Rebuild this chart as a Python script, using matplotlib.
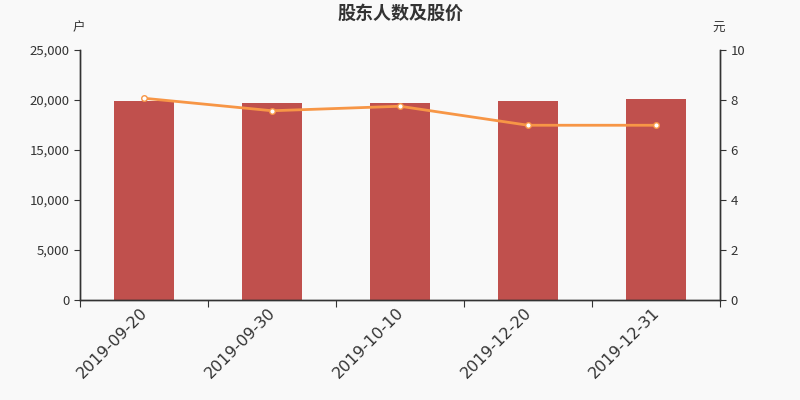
import matplotlib
matplotlib.use('Agg')
import matplotlib.pyplot as plt
import matplotlib.transforms as mtransforms
from matplotlib.ticker import FuncFormatter

# 数据
dates = ['2019-09-20', '2019-09-30', '2019-10-10', '2019-12-20', '2019-12-31']
holders = [19950, 19680, 19720, 19900, 20080]
prices = [8.07, 7.57, 7.75, 6.99, 6.99]

plt.rcParams['font.family'] = ['Noto Sans CJK SC', 'DejaVu Sans']
plt.rcParams['axes.unicode_minus'] = False

bg = '#f9f9f9'
axis_color = '#333333'

fig = plt.figure(figsize=(8, 4), dpi=100, facecolor=bg)
ax = fig.add_axes([0.1, 0.25, 0.8, 0.625], facecolor=bg)

x = list(range(len(dates)))
ax.bar(x, holders, width=0.47, color='#c0504d', zorder=2)
ax.set_xlim(-0.5, len(dates) - 0.5)
ax.set_ylim(0, 25000)
ax.set_yticks([0, 5000, 10000, 15000, 20000, 25000])
ax.yaxis.set_major_formatter(FuncFormatter(lambda v, p: '{:,.0f}'.format(v)))

# x 轴刻度在类别之间，标签在类别中心
ax.set_xticks([i - 0.5 for i in range(len(dates) + 1)])
ax.set_xticklabels([])
ax.set_xticks(x, minor=True)
ax.set_xticklabels(dates, minor=True, rotation=45, ha='right', rotation_mode='anchor',
                   fontsize=11.5, color=axis_color, family='DejaVu Sans')
ax.tick_params(axis='x', which='minor', length=0, pad=5)
ax.tick_params(axis='x', which='major', length=5, color=axis_color)
ax.tick_params(axis='y', length=4, color=axis_color, labelcolor=axis_color, labelsize=9.5)
offset = mtransforms.ScaledTranslation(-4 / 100, 2 / 100, fig.dpi_scale_trans)
for lbl in ax.get_xticklabels(minor=True):
    lbl.set_transform(lbl.get_transform() + offset)

ax2 = ax.twinx()
ax2.plot(x, prices, color='#f79646', linewidth=2, marker='o', markersize=4,
         markerfacecolor='white', markeredgecolor='#f79646', markeredgewidth=1, zorder=3)
ax2.set_ylim(0, 10)
ax2.set_yticks([0, 2, 4, 6, 8, 10])
ax2.tick_params(axis='y', length=4, color=axis_color, labelcolor=axis_color, labelsize=9.5)

for a in (ax, ax2):
    a.spines['top'].set_visible(False)
    for s in ('left', 'right', 'bottom'):
        a.spines[s].set_color(axis_color)
        a.spines[s].set_linewidth(1)

fig.text(0.5, 0.967, '股东人数及股价', ha='center', va='center', fontsize=13,
         fontweight='bold', color=axis_color)
fig.text(0.098, 0.93, '户', ha='center', va='center', fontsize=9, color=axis_color)
fig.text(0.898, 0.93, '元', ha='center', va='center', fontsize=9, color=axis_color)

fig.savefig('out.png', dpi=100, facecolor=bg)
